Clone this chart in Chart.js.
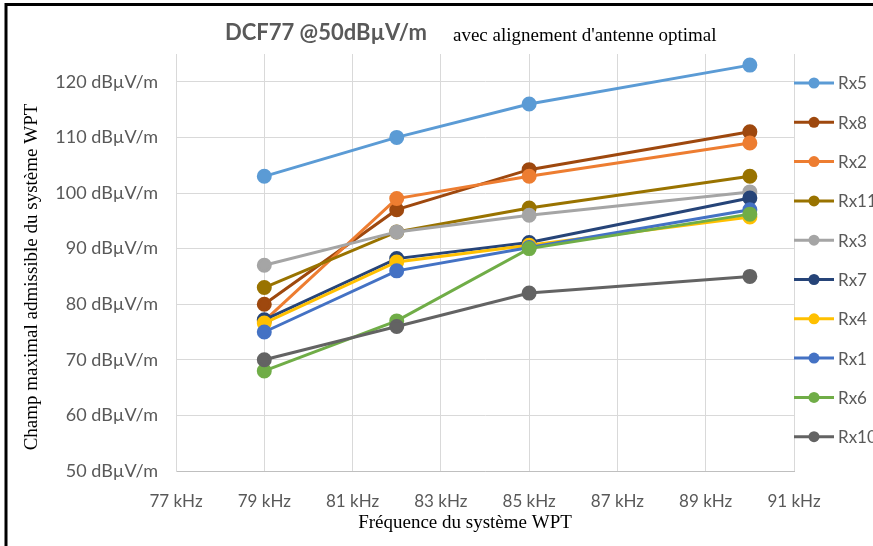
<!DOCTYPE html>
<html>
<head>
<meta charset="utf-8">
<script src="https://cdn.jsdelivr.net/npm/chart.js@4/dist/chart.umd.min.js"></script>
<style>
  html, body { margin: 0; padding: 0; background: #fff; }
  #wrap { width: 873px; height: 546px; position: relative; }
</style>
</head>
<body>
<div id="wrap"><canvas id="myChart" width="873" height="546"></canvas></div>
<script>
// data
const freqs = [79, 82, 85, 90];
const seriesNames = ['Rx5', 'Rx8', 'Rx2', 'Rx11', 'Rx3', 'Rx7', 'Rx4', 'Rx1', 'Rx6', 'Rx10'];
const rx5  = [103, 110, 116, 123];
const rx8  = [80, 97, 104.2, 111];
const rx2  = [77, 99, 103, 109];
const rx11 = [83, 93, 97.3, 103];
const rx3  = [87, 93, 96, 100.2];
const rx7  = [77.2, 88.2, 91.1, 99.1];
const rx4  = [76.6, 87.6, 90.6, 95.7];
const rx1  = [75, 86, 90.2, 97];
const rx6  = [68, 77, 90, 96.2];
const rx10 = [70, 76, 82, 85];
const seriesValues = [rx5, rx8, rx2, rx11, rx3, rx7, rx4, rx1, rx6, rx10];
const seriesColors = ['#5B9BD5', '#9E480E', '#ED7D31', '#997300', '#A5A5A5', '#264478', '#FFC000', '#4472C4', '#70AD47', '#636363'];
const xTicks = [77, 79, 81, 83, 85, 87, 89, 91];
const yTicks = [50, 60, 70, 80, 90, 100, 110, 120];

const sansFont = "Lato, 'Open Sans', sans-serif";
const serifFont = "'Liberation Serif', 'DejaVu Serif', serif";

// excel draws the last series on top, chart.js draws the first one on top -> reverse
let datasets = [];
for (let i = seriesNames.length - 1; i >= 0; i--) {
  datasets.push({
    label: seriesNames[i],
    data: freqs.map((f, j) => ({x: f, y: seriesValues[i][j]})),
    borderColor: seriesColors[i],
    backgroundColor: seriesColors[i],
    borderWidth: 3,
    pointRadius: 6,
    pointHoverRadius: 6,
    tension: 0
  });
}

const decorPlugin = {
  id: 'decor',
  afterDraw(chart) {
    const ctx = chart.ctx;
    ctx.save();

    // frame of the picture
    ctx.strokeStyle = '#000';
    ctx.lineWidth = 3;
    ctx.beginPath();
    ctx.moveTo(6, 546);
    ctx.lineTo(6, 4.5);
    ctx.lineTo(873, 4.5);
    ctx.stroke();

    // title, two parts in two fonts
    ctx.textBaseline = 'middle';
    ctx.textAlign = 'left';
    ctx.fillStyle = '#595959';
    ctx.font = "bold 22px " + sansFont;
    ctx.fillText('DCF77 @50dBµV/m', 225, 33);
    ctx.fillStyle = '#000';
    ctx.font = "19px " + serifFont;
    ctx.fillText("avec alignement d'antenne optimal", 453, 36);

    // axis titles
    ctx.textAlign = 'center';
    ctx.fillText('Fréquence du système WPT', 465, 523);
    ctx.save();
    ctx.translate(32, 277);
    ctx.rotate(-Math.PI / 2);
    ctx.fillText('Champ maximal admissible du système WPT', 0, 0);
    ctx.restore();

    // legend on the right
    ctx.textAlign = 'left';
    ctx.font = "17px " + sansFont;
    seriesNames.forEach((name, i) => {
      const y = 83 + i * 39.3;
      ctx.strokeStyle = seriesColors[i];
      ctx.lineWidth = 3;
      ctx.beginPath();
      ctx.moveTo(794, y);
      ctx.lineTo(834, y);
      ctx.stroke();
      ctx.fillStyle = seriesColors[i];
      ctx.beginPath();
      ctx.arc(814, y, 5.5, 0, Math.PI * 2);
      ctx.fill();
      ctx.fillStyle = '#595959';
      ctx.fillText(name, 838, y + 1);
    });
    ctx.restore();
  }
};

new Chart(document.getElementById('myChart'), {
  type: 'line',
  data: { datasets: datasets },
  options: {
    responsive: false,
    animation: false,
    layout: { padding: { top: 54, right: 79, bottom: 0, left: 0 } },
    plugins: {
      legend: { display: false },
      tooltip: { enabled: false }
    },
    scales: {
      x: {
        type: 'linear',
        min: 77,
        max: 91,
        afterFit: s => { s.height = 75; },
        afterBuildTicks: s => { s.ticks = xTicks.map(v => ({value: v})); },
        grid: { color: '#d9d9d9', lineWidth: 1, drawTicks: false },
        border: { color: '#bfbfbf', width: 1 },
        ticks: {
          padding: 20,
          color: '#595959',
          font: { family: sansFont, size: 17 },
          callback: v => v + ' kHz'
        }
      },
      y: {
        min: 50,
        max: 125,
        afterFit: s => { s.width = 176; },
        afterBuildTicks: s => { s.ticks = yTicks.map(v => ({value: v})); },
        grid: { color: '#d9d9d9', lineWidth: 1, drawTicks: false },
        border: { color: '#d9d9d9', width: 1 },
        ticks: {
          padding: 18,
          color: '#595959',
          font: { family: sansFont, size: 18 },
          callback: v => v + ' dBµV/m'
        }
      }
    }
  },
  plugins: [decorPlugin]
});
</script>
</body>
</html>
